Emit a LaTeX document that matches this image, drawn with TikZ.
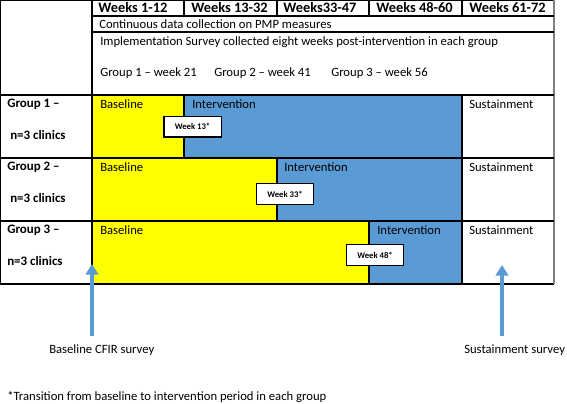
\documentclass[tikz,border=0pt]{standalone}
\usepackage{fontspec}
\setmainfont{Carlito}
\usetikzlibrary{arrows.meta}
\definecolor{ivblue}{RGB}{91,155,213}
\definecolor{blyellow}{RGB}{255,255,0}
\begin{document}
\begin{tikzpicture}[x=0.75pt,y=-0.75pt,
  txt/.style={anchor=west, inner sep=0pt, font=\fontsize{9.5}{11}\selectfont},
  btxt/.style={txt, font=\fontsize{9.7}{11}\selectfont\bfseries},
  htxt/.style={txt, font=\fontsize{10.8}{12}\selectfont\bfseries},
  weekbox/.style={draw, fill=white, line width=1pt, minimum width=43pt, minimum height=15.5pt, inner sep=0pt, font=\fontsize{6.5}{8}\selectfont\bfseries},
  survey/.style={draw=ivblue, line width=2.3pt, -{Triangle[width=9.5pt,length=8pt]}}]
\useasboundingbox (0,0) rectangle (567,403);
% periods of each group
\fill[blyellow] (92,95) rectangle (184,158);
\fill[ivblue] (184,95) rectangle (462,158);
\fill[blyellow] (92,158) rectangle (277,221);
\fill[ivblue] (277,158) rectangle (462,221);
\fill[blyellow] (92,221) rectangle (369,284);
\fill[ivblue] (369,221) rectangle (462,284);
% table lines
\draw[line width=0.8pt] (0,0) -- (554,0);
\draw[line width=0.8pt] (0,0) -- (0,284);
\draw[line width=0.8pt] (0,284) -- (554,284);
\draw[gray, line width=1.5pt] (554,0) -- (554,284);
\draw[line width=0.8pt] (92,0) -- (92,284);
\draw[line width=0.8pt] (92,16) -- (554,16);
\draw[line width=0.8pt] (92,32) -- (554,32);
\draw[line width=0.8pt] (0,95) -- (554,95);
\draw[line width=0.8pt] (0,158) -- (554,158);
\draw[line width=0.8pt] (0,221) -- (554,221);
\draw[line width=0.8pt] (184,95) -- (184,158);
\draw[line width=0.8pt] (277,158) -- (277,221);
\draw[line width=0.8pt] (369,221) -- (369,284);
\draw[line width=0.8pt] (462,95) -- (462,284);
\foreach \x in {184,277,369,462}
  \draw[line width=0.8pt] (\x,0) -- (\x,16);
% header
\node[htxt] (w1) at (98,8) {Weeks 1-12};
\node[htxt] (w2) at (191,8) {Weeks 13-32};
\node[htxt] (w3) at (283,8) {Weeks33-47};
\node[htxt] (w4) at (376,8) {Weeks 48-60};
\node[htxt] (w5) at (469,8) {Weeks 61-72};
\node[txt] (pmp) at (99,24) {Continuous data collection on PMP measures};
\node[txt] (impl) at (100,42) {Implementation Survey collected eight weeks post-intervention in each group};
\node[txt] (g1w) at (100,73) {Group 1 -- week 21};
\node[txt] (g2w) at (214,73) {Group 2 -- week 41};
\node[txt] (g3w) at (331,73) {Group 3 -- week 56};
% groups
\node[btxt] (g1) at (7,104) {Group 1 --};
\node[btxt] (n1) at (10,135) {n=3 clinics};
\node[btxt] (g2) at (7,167) {Group 2 --};
\node[btxt] (n2) at (10,198) {n=3 clinics};
\node[btxt] (g3) at (7,230) {Group 3 --};
\node[btxt] (n3) at (7,261) {n=3 clinics};
\node[txt] (b1) at (100,104) {Baseline};
\node[txt] (i1) at (192,104) {Intervention};
\node[txt] (s1) at (469,104) {Sustainment};
\node[txt] (b2) at (100,167) {Baseline};
\node[txt] (i2) at (284,167) {Intervention};
\node[txt] (s2) at (469,167) {Sustainment};
\node[txt] (b3) at (100,230) {Baseline};
\node[txt] (i3) at (377,230) {Intervention};
\node[txt] (s3) at (469,230) {Sustainment};
% transitions
\node[weekbox] (t1) at (192.5,126.5) {Week 13*};
\node[weekbox] (t2) at (285,194) {Week 33*};
\node[weekbox] (t3) at (375,255) {Week 48*};
% surveys
\coordinate (cfirtail) at (92,336);
\coordinate (cfirtip) at (92,264);
\coordinate (susttail) at (502,336);
\coordinate (susttip) at (502,265);
\draw[survey] (cfirtail) -- (cfirtip);
\draw[survey] (susttail) -- (susttip);
\node[txt] (cfir) at (49,350) {Baseline CFIR survey};
\node[txt] (sust) at (464,350) {Sustainment survey};
\node[txt] (note) at (7,397) {*Transition from baseline to intervention period in each group};
\end{tikzpicture}
\end{document}
